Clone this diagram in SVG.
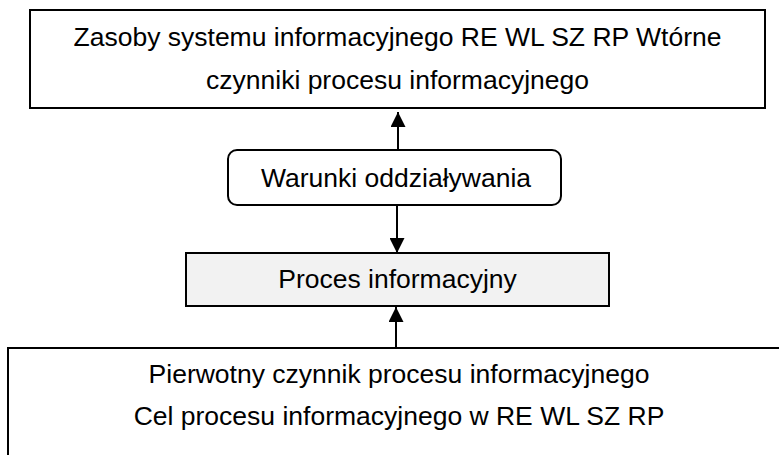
<svg xmlns="http://www.w3.org/2000/svg" width="779" height="455" viewBox="0 0 779 455">
<style>
.box{fill:#fff;stroke:#000;stroke-width:2}
.t{font-family:"Liberation Sans",Arial,sans-serif;font-size:26.5px;fill:#000;text-anchor:middle}
.c{stroke:#000;stroke-width:2;fill:none}
</style>
<defs>
<marker id="ah" markerWidth="16" markerHeight="15" refX="15" refY="7.5" orient="auto" markerUnits="userSpaceOnUse">
<path d="M0,0 L15,7.5 L0,15 Z" fill="#000"/>
</marker>
</defs>
<rect width="779" height="455" fill="#fff"/>
<g id="zasoby">
<rect class="box" x="30" y="10" width="735" height="98"/>
<text class="t" x="397.5" y="46">Zasoby systemu informacyjnego RE WL SZ RP Wtórne</text>
<text class="t" x="397.5" y="89">czynniki procesu informacyjnego</text>
</g>
<g id="warunki">
<rect class="box" x="228" y="150" width="333" height="55" rx="9"/>
<text class="t" x="396" y="187">Warunki oddziaływania</text>
</g>
<g id="proces">
<rect class="box" x="186" y="253" width="423" height="53" style="fill:#f2f2f2"/>
<text class="t" x="397.5" y="288">Proces informacyjny</text>
</g>
<g id="pierwotny">
<rect class="box" x="8" y="348" width="800" height="130"/>
<text class="t" x="399" y="383">Pierwotny czynnik procesu informacyjnego</text>
<text class="t" x="399" y="425">Cel procesu informacyjnego w RE WL SZ RP</text>
</g>
<g id="connectors">
<line class="c" x1="398" y1="150" x2="398" y2="112" marker-end="url(#ah)"/>
<line class="c" x1="397" y1="205" x2="397" y2="253" marker-end="url(#ah)"/>
<line class="c" x1="396" y1="348" x2="396" y2="307" marker-end="url(#ah)"/>
</g>
</svg>
